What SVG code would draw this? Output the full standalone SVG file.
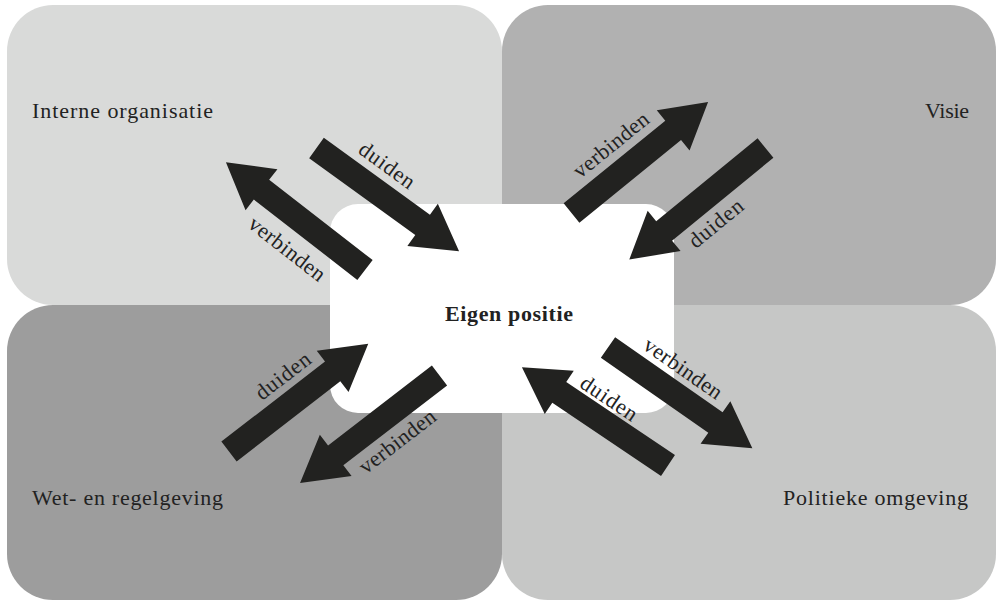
<svg xmlns="http://www.w3.org/2000/svg" xmlns:xlink="http://www.w3.org/1999/xlink" width="996" height="605" viewBox="0 0 996 605">
<style>
.lbl{font-family:"Liberation Serif","Times New Roman",serif;font-size:22px;fill:#222}
.arrlbl{font-family:"Liberation Serif","Times New Roman",serif;font-size:22px;fill:#222;text-anchor:middle}
.center{font-family:"Liberation Serif","Times New Roman",serif;font-size:22px;font-weight:bold;fill:#222}
.arr{fill:#222220}
</style>
<defs>
<path id="arr" d="M0,-12.5 L131,-12.5 L131,-26 L176,0 L131,26 L131,12.5 L0,12.5 Z"/>
</defs>
<rect width="996" height="605" fill="#ffffff"/>
<g id="interne-organisatie">
<rect x="7" y="5" width="495" height="300" rx="46" fill="#d9dad9"/>
<text class="lbl" x="32" y="118" textLength="181">Interne organisatie</text>
</g>
<g id="visie">
<rect x="502" y="5" width="494" height="300" rx="46" fill="#b1b1b1"/>
<text class="lbl" x="925" y="118" textLength="44">Visie</text>
</g>
<g id="wet-en-regelgeving">
<rect x="7" y="305" width="495" height="295" rx="46" fill="#9d9d9d"/>
<text class="lbl" x="32" y="505" textLength="191">Wet- en regelgeving</text>
</g>
<g id="politieke-omgeving">
<rect x="502" y="305" width="494" height="295" rx="46" fill="#c6c7c6"/>
<text class="lbl" x="783" y="505" textLength="185">Politieke omgeving</text>
</g>
<g id="eigen-positie">
<rect x="330" y="204" width="344" height="209" rx="28" fill="#ffffff"/>
<text class="center" x="445" y="321" textLength="128">Eigen positie</text>
</g>
<g id="connectors">
<use xlink:href="#arr" class="arr" transform="translate(316.5,148) rotate(35.9)"/>
<use xlink:href="#arr" class="arr" transform="translate(365,270) rotate(-142.2)"/>
<use xlink:href="#arr" class="arr" transform="translate(571.5,213) rotate(-39.1)"/>
<use xlink:href="#arr" class="arr" transform="translate(765.5,148) rotate(140.7)"/>
<use xlink:href="#arr" class="arr" transform="translate(229,451.5) rotate(-37.7)"/>
<use xlink:href="#arr" class="arr" transform="translate(439.5,375.5) rotate(142.4)"/>
<use xlink:href="#arr" class="arr" transform="translate(608,347.5) rotate(34.9)"/>
<use xlink:href="#arr" class="arr" transform="translate(668,465.5) rotate(-146.1)"/>
<text class="arrlbl" transform="translate(387,165.5) rotate(36)" y="7" textLength="64">duiden</text>
<text class="arrlbl" transform="translate(287,249) rotate(38)" y="7" textLength="91">verbinden</text>
<text class="arrlbl" transform="translate(611,145) rotate(-39)" y="7" textLength="91">verbinden</text>
<text class="arrlbl" transform="translate(716,223.5) rotate(-39.3)" y="7" textLength="64">duiden</text>
<text class="arrlbl" transform="translate(283,376) rotate(-37.7)" y="7" textLength="64">duiden</text>
<text class="arrlbl" transform="translate(397.5,441.5) rotate(-37.6)" y="7" textLength="91">verbinden</text>
<text class="arrlbl" transform="translate(683,368.5) rotate(35)" y="7" textLength="91">verbinden</text>
<text class="arrlbl" transform="translate(609,398.5) rotate(34)" y="7" textLength="64">duiden</text>
</g>
</svg>
